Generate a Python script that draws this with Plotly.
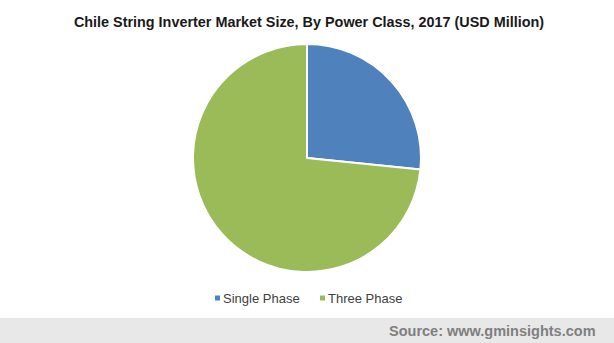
import plotly.graph_objects as go

labels = ["Single Phase", "Three Phase"]
values = [26.6, 73.4]
colors = ["#4f81bd", "#9bbb59"]

W, H = 614, 343
fig = go.Figure(go.Pie(
    labels=labels, values=values, sort=False, direction="clockwise", rotation=0,
    marker=dict(colors=colors, line=dict(color="white", width=2)),
    textinfo="none", hoverinfo="label+value", showlegend=False,
    domain=dict(x=[0.2, 0.8], y=[(H-272)/H, (H-44)/H]),
))

# custom legend (small square markers close to labels, as in the reference)
legend_x = [215, 320]  # left edge of each legend marker, px
shapes = [dict(type="rect", xref="paper", yref="paper", x0=0, x1=1, y0=0, y1=25/H,
               fillcolor="#e8e8e8", line=dict(width=0), layer="below")]
annotations = []
for lab, col, lx in zip(labels, colors, legend_x):
    shapes.append(dict(type="rect", xref="paper", yref="paper",
                       x0=lx/W, x1=(lx+5)/W, y0=1-300.5/H, y1=1-295.5/H,
                       fillcolor=col, line=dict(width=0)))
    annotations.append(dict(text=lab, xref="paper", yref="paper", x=(lx+8)/W, xanchor="left",
                            y=1-298/H, yanchor="middle", showarrow=False, xshift=-2,
                            font=dict(size=13, color="#404040")))

annotations.append(dict(text="<b>Source: www.gminsights.com</b>", xref="paper", yref="paper",
                        x=598/W, xanchor="right", y=12.5/H, yanchor="middle", showarrow=False,
                        font=dict(size=14.5, color="#7f7f7f")))

fig.update_layout(
    width=W, height=H, margin=dict(l=0, r=0, t=0, b=0),
    paper_bgcolor="white", plot_bgcolor="white",
    font=dict(family="Liberation Sans, Arial, sans-serif", size=12, color="#404040"),
    title=dict(text="<b>Chile String Inverter Market Size, By Power Class, 2017 (USD Million)</b>",
               x=309/W, xanchor="center", y=1-22/H, yanchor="middle",
               font=dict(size=14.4, color="#1a1a1a")),
    showlegend=False,
    shapes=shapes,
    annotations=annotations,
)
fig.write_html("out.html")
